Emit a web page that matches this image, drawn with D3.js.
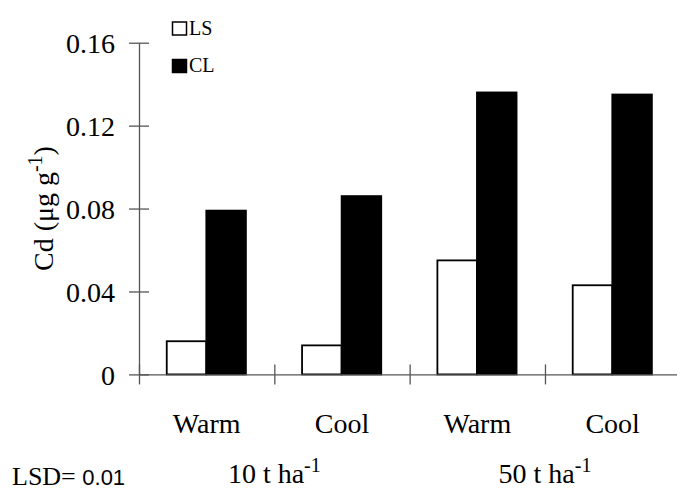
<!DOCTYPE html>
<html>
<head>
<meta charset="utf-8">
<script src="https://cdn.jsdelivr.net/npm/d3@7"></script>
<style>
  html, body { margin: 0; padding: 0; background: #fff; }
  svg { display: block; }
  text, tspan { font-family: "Liberation Serif", "Times New Roman", serif; fill: #000; }
</style>
</head>
<body>
<svg id="chart" width="677" height="490"></svg>
<script>
// Cd content by temperature regime and application rate
const conditions = ["Warm", "Cool", "Warm", "Cool"];
const rateGroups = ["10 t ha", "50 t ha"];
const seriesNames = ["LS", "CL"];
const lsValues = [0.016, 0.014, 0.055, 0.043];
const clValues = [0.079, 0.086, 0.136, 0.135];
const yTicks = [0, 0.04, 0.08, 0.12, 0.16];
const yTickLabels = ["0", "0.04", "0.08", "0.12", "0.16"];
const lsdLabel = "LSD= ";
const lsdValue = "0.01";

const seriesValues = [lsValues, clValues];
const seriesFill = ["#fff", "#000"];
const serif = "'Liberation Serif', 'Times New Roman', serif";
const sans = "'Liberation Sans', Arial, sans-serif";

const svg = d3.select("#chart");

const plotLeft = 139, plotRight = 680.3, plotTop = 42.7, plotBottom = 374.4;

const idx = d3.range(conditions.length);
const x = d3.scaleBand().domain(idx).range([plotLeft, plotRight]).padding(0);
const xEdge = d3.scaleLinear().domain([0, conditions.length]).range([plotLeft, plotRight]);
const xs = d3.scaleBand().domain(seriesNames)
  .range([x.bandwidth() * 0.205, x.bandwidth() * 0.79]);
const y = d3.scaleLinear().domain([0, 0.16]).range([plotBottom, plotTop]);

// bars
seriesNames.forEach((s, si) => {
  svg.append("g").selectAll("rect")
    .data(idx)
    .join("rect")
    .attr("x", i => x(i) + xs(s))
    .attr("y", i => y(seriesValues[si][i]))
    .attr("width", xs.bandwidth())
    .attr("height", i => y(0) - y(seriesValues[si][i]))
    .attr("fill", seriesFill[si])
    .attr("stroke", "#000")
    .attr("stroke-width", 1.8);
});

// y axis with ticks crossing the line
const yAxis = svg.append("g")
  .attr("transform", `translate(${plotLeft},0)`)
  .call(d3.axisLeft(y).tickValues(yTicks)
    .tickFormat((d, i) => yTickLabels[i])
    .tickSize(10).tickSizeOuter(0).tickPadding(14));
yAxis.attr("font-family", null).attr("font-size", null);
yAxis.select(".domain").attr("stroke", "#555").attr("stroke-width", 1.3);
yAxis.selectAll(".tick line").attr("x1", 10).attr("stroke", "#555").attr("stroke-width", 1.3);
yAxis.selectAll(".tick text")
  .style("font-family", serif)
  .style("font-size", "28px")
  .attr("fill", "#000")
  .attr("dy", "0.35em");

// x axis with ticks at category boundaries
const xAxis = svg.append("g")
  .attr("transform", `translate(0,${plotBottom})`)
  .call(d3.axisBottom(xEdge).tickValues(d3.range(conditions.length + 1))
    .tickFormat("").tickSize(10).tickSizeOuter(0));
xAxis.select(".domain").attr("stroke", "#555").attr("stroke-width", 1.3);
xAxis.selectAll(".tick line").attr("y1", -10).attr("stroke", "#555").attr("stroke-width", 1.3);

// category labels
svg.append("g").selectAll("text")
  .data(idx)
  .join("text")
  .attr("x", i => x(i) + x.bandwidth() / 2)
  .attr("y", 433)
  .attr("text-anchor", "middle")
  .style("font-family", serif)
  .style("font-size", "28px")
  .text(i => conditions[i]);

// application rate labels
rateGroups.forEach((g, gi) => {
  const t = svg.append("text")
    .attr("x", xEdge(gi * 2 + 1))
    .attr("y", 483)
    .attr("text-anchor", "middle")
    .style("font-family", serif)
    .style("font-size", "28px");
  t.append("tspan").text(g);
  t.append("tspan").style("font-size", "20px").attr("dy", -11).text("-1");
});

// y axis title
const yt = svg.append("text")
  .attr("transform", `translate(53,${(plotTop + plotBottom) / 2}) rotate(-90)`)
  .attr("text-anchor", "middle")
  .style("font-family", serif)
  .style("font-size", "28px");
yt.append("tspan").text("Cd (μg g");
yt.append("tspan").style("font-size", "20px").attr("dy", -11).text("-1");
yt.append("tspan").attr("dy", 11).text(")");

// legend
const legend = svg.append("g");
seriesNames.forEach((s, si) => {
  const cy = si === 0 ? 28.5 : 66;
  legend.append("rect")
    .attr("x", 172.5).attr("y", cy - 6.5)
    .attr("width", 14).attr("height", 13)
    .attr("fill", seriesFill[si])
    .attr("stroke", "#000").attr("stroke-width", 1.5);
  legend.append("text")
    .attr("x", 189).attr("y", cy + 6)
    .style("font-family", serif)
    .style("font-size", "20px")
    .text(s);
});

// LSD note
const lsd = svg.append("text").attr("x", 12).attr("y", 485)
  .style("font-family", serif).style("font-size", "26px");
lsd.append("tspan").text(lsdLabel);
lsd.append("tspan").style("font-family", sans).style("font-size", "22px").text(lsdValue);
</script>
</body>
</html>
